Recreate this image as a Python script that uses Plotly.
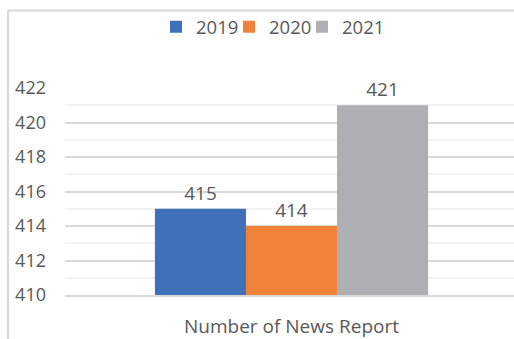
import plotly.graph_objects as go

categories = ["Number of News Report"]
years = ["2019", "2020", "2021"]
values_2019 = [415]
values_2020 = [414]
values_2021 = [421]
y_ticks = [410, 412, 414, 416, 418, 420, 422]

colors = {"2019": "#4070BA", "2020": "#F0823A", "2021": "#AEAFB2"}
series = {"2019": values_2019, "2020": values_2020, "2021": values_2021}
legend_left_px = {"2019": 156, "2020": 229, "2021": 302}

W, H = 514, 339
L, R, T, B = 65, 0, 88, 40
PW, PH = W - L - R, H - T - B
TXT = "#595959"
FONT = "Open Sans"

def px_x(px):
    return (px - L) / PW

def px_y(py):
    return (H - B - py) / PH

fig = go.Figure()
legend_layout = {}
for i, yr in enumerate(years):
    lname = "legend" if i == 0 else f"legend{i + 1}"
    fig.add_trace(go.Bar(
        name=yr, x=categories, y=series[yr],
        marker=dict(color=colors[yr], line=dict(width=0)),
        text=[str(v) for v in series[yr]], textposition="outside",
        textfont=dict(size=19, color=TXT, family=FONT),
        cliponaxis=False, legend=lname,
    ))
    legend_layout[lname] = dict(
        orientation="h", x=px_x(legend_left_px[yr]), xanchor="left",
        y=px_y(26), yanchor="middle", itemwidth=30,
        font=dict(size=18.5, color=TXT, family=FONT),
        bgcolor="rgba(0,0,0,0)", borderwidth=0)

border = "#D9D9D9"
shapes = [
    dict(type="line", xref="paper", yref="paper", x0=px_x(8), x1=px_x(8),
         y0=px_y(9), y1=px_y(H + 5), line=dict(color=border, width=2)),
    dict(type="line", xref="paper", yref="paper", x0=px_x(8), x1=px_x(W + 5),
         y0=px_y(9), y1=px_y(9), line=dict(color=border, width=2)),
]

fig.update_layout(
    width=W, height=H,
    margin=dict(l=L, r=R, t=T, b=B, pad=0),
    paper_bgcolor="white", plot_bgcolor="white",
    barmode="group", bargap=0.397, bargroupgap=0,
    font=dict(family=FONT, color=TXT),
    showlegend=True,
    shapes=shapes,
    xaxis=dict(type="category", range=[-0.5, -0.5 + PW / 453.0],
               showgrid=False, showline=True, linecolor=border, linewidth=1.5,
               ticks="", tickfont=dict(size=19, color=TXT, family=FONT),
               ticklabelstandoff=13),
    yaxis=dict(range=[410, 422], tickvals=y_ticks, showgrid=True,
               gridcolor="#D9D9D9", gridwidth=1.5, zeroline=False,
               showline=False, ticks="",
               tickfont=dict(size=18, color=TXT, family=FONT),
               ticklabelstandoff=18,
               minor=dict(dtick=1, tick0=410, showgrid=True,
                          gridcolor="#F2F2F2", gridwidth=1.5)),
    **legend_layout,
)

fig.write_html("out.html")
